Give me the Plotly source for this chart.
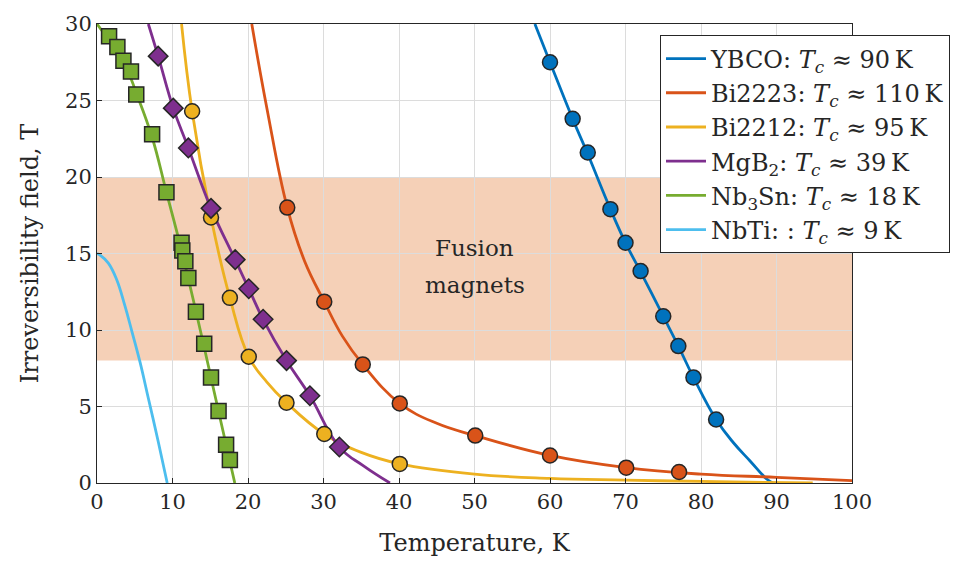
import plotly.graph_objects as go

# ---------------- data ----------------
# Measured points (markers)
ybco_T = [60.0, 63.0, 65.0, 68.0, 70.0, 72.0, 75.0, 77.0, 79.0, 82.0]
ybco_B = [27.5, 23.8, 21.6, 17.9, 15.7, 13.85, 10.9, 8.95, 6.9, 4.15]

bi2223_T = [25.2, 30.1, 35.2, 40.1, 50.1, 60.0, 70.1, 77.1]
bi2223_B = [18.0, 11.85, 7.75, 5.2, 3.1, 1.8, 1.0, 0.72]

bi2212_T = [12.6, 15.1, 17.6, 20.1, 25.1, 30.1, 40.1]
bi2212_B = [24.3, 17.35, 12.1, 8.25, 5.25, 3.2, 1.25]

mgb2_T = [8.1, 10.1, 12.1, 15.1, 18.3, 20.1, 22.0, 25.1, 28.2, 32.1]
mgb2_B = [27.9, 24.5, 21.9, 17.95, 14.6, 12.7, 10.7, 8.0, 5.7, 2.35]

nb3sn_T = [1.6, 2.7, 3.5, 4.5, 5.2, 7.3, 9.2, 11.2, 11.3, 11.7, 12.1, 13.1,
           14.2, 15.1, 16.1, 17.1, 17.6]
nb3sn_B = [29.2, 28.5, 27.6, 26.9, 25.4, 22.8, 19.0, 15.7, 15.2, 14.5, 13.4,
           11.2, 9.1, 6.9, 4.7, 2.5, 1.5]

# Fitted curves (lines)
ybco_line_T = [58.0, 60.0, 63.0, 65.0, 68.0, 70.0, 72.0, 75.0, 77.0, 79.0, 82.0, 84.3, 86.5, 88.7, 89.5]
ybco_line_B = [30.0, 27.5, 23.8, 21.5, 17.9, 15.7, 13.8, 10.9, 8.95, 6.9, 4.15, 2.63, 1.44, 0.26, 0.0]

bi2223_line_T = [20.5, 22.5, 25.2, 27.5, 30.1, 32.5, 35.2, 40.1, 45.0, 50.1, 60.0, 70.1, 80.0, 90.0, 100.0]
bi2223_line_B = [30.0, 24.5, 18.0, 14.5, 11.85, 9.6, 7.75, 5.2, 3.9, 3.1, 1.8, 1.0, 0.58, 0.37, 0.15]

bi2212_line_T = [11.2, 12.6, 15.1, 17.6, 20.1, 22.5, 25.1, 30.1, 35.0, 40.1, 50.0, 60.0, 70.0, 80.0, 94.8]
bi2212_line_B = [30.0, 24.3, 17.35, 12.1, 8.25, 6.6, 5.25, 3.2, 2.0, 1.25, 0.58, 0.3, 0.19, 0.1, 0.0]

mgb2_line_T = [6.8, 8.1, 10.1, 12.1, 15.1, 18.3, 20.1, 22.0, 25.1, 28.2, 32.1, 35.3, 38.8]
mgb2_line_B = [30.0, 27.9, 24.5, 21.9, 17.95, 14.6, 12.7, 10.7, 8.0, 5.7, 2.35, 1.12, 0.0]

nb3sn_line_T = [0.0, 2.0, 4.0, 5.2, 7.3, 9.2, 11.0, 12.5, 14.0, 15.5, 17.1, 18.25]
nb3sn_line_B = [30.0, 28.6, 27.0, 25.5, 22.6, 19.0, 15.6, 12.5, 9.3, 6.0, 2.5, 0.0]

nbti_line_T = [0.0, 0.4, 1.5, 2.6, 3.7, 4.6, 5.7, 6.8, 8.1, 9.3]
nbti_line_B = [15.0, 14.9, 14.37, 13.3, 11.57, 9.95, 7.9, 5.54, 2.73, 0.0]

fusion_band = [8, 20]

TS = "\u2009"  # thin space before unit
names = [
    f"YBCO: <i>T</i><sub><i>c</i></sub> ≈ 90{TS}K",
    f"Bi2223: <i>T</i><sub><i>c</i></sub> ≈ 110{TS}K",
    f"Bi2212: <i>T</i><sub><i>c</i></sub> ≈ 95{TS}K",
    f"MgB<sub>2</sub>: <i>T</i><sub><i>c</i></sub> ≈ 39{TS}K",
    f"Nb<sub>3</sub>Sn: <i>T</i><sub><i>c</i></sub> ≈ 18{TS}K",
    f"NbTi: : <i>T</i><sub><i>c</i></sub> ≈ 9{TS}K",
]
colors = ["#0072BD", "#D95319", "#EDB120", "#7E2F8E", "#77AC30", "#4DBEEE"]

FONT = "DejaVu Serif"
DARK = "#262626"

fig = go.Figure()

lines = [
    (ybco_line_T, ybco_line_B),
    (bi2223_line_T, bi2223_line_B),
    (bi2212_line_T, bi2212_line_B),
    (mgb2_line_T, mgb2_line_B),
    (nb3sn_line_T, nb3sn_line_B),
    (nbti_line_T, nbti_line_B),
]
for (t, b), name, c in zip(lines, names, colors):
    fig.add_trace(go.Scatter(
        x=t, y=b, mode="lines", name=name,
        line=dict(color=c, width=2.8, shape="spline", smoothing=1.2),
    ))

markers = [
    (ybco_T, ybco_B, colors[0], "circle", 15),
    (bi2223_T, bi2223_B, colors[1], "circle", 15),
    (bi2212_T, bi2212_B, colors[2], "circle", 15),
    (mgb2_T, mgb2_B, colors[3], "diamond", 15),
    (nb3sn_T, nb3sn_B, colors[4], "square", 15),
]
for t, b, c, sym, sz in markers:
    fig.add_trace(go.Scatter(
        x=t, y=b, mode="markers", showlegend=False, hoverinfo="skip",
        marker=dict(color=c, symbol=sym, size=sz, line=dict(color=DARK, width=1.5)),
    ))

fig.add_shape(type="rect", xref="x", yref="y", x0=0, x1=100,
              y0=fusion_band[0], y1=fusion_band[1],
              fillcolor="#f5d0b7", line=dict(width=0), layer="below")

fig.add_annotation(x=50, y=15.35, xref="x", yref="y", text="Fusion",
                   showarrow=False, font=dict(family=FONT, size=23, color=DARK))
fig.add_annotation(x=50, y=12.95, xref="x", yref="y", text="magnets",
                   showarrow=False, font=dict(family=FONT, size=23, color=DARK))

axis_common = dict(
    showgrid=True, gridcolor="#dcdcdc", gridwidth=1,
    showline=True, linecolor=DARK, linewidth=1, mirror=True,
    ticks="inside", ticklen=5, tickcolor=DARK,
    tickfont=dict(family=FONT, size=21, color=DARK),
    zeroline=False,
)

fig.update_layout(
    width=963, height=563,
    margin=dict(l=97, r=111, t=20, b=79),
    paper_bgcolor="white", plot_bgcolor="white",
    font=dict(family=FONT, color=DARK),
    xaxis=dict(range=[0, 100], dtick=10,
               title=dict(text="Temperature, K", font=dict(family=FONT, size=24, color=DARK), standoff=20),
               **axis_common),
    yaxis=dict(range=[0, 30], dtick=5,
               title=dict(text="Irreversibility field, T", font=dict(family=FONT, size=24, color=DARK), standoff=19),
               **axis_common),
    legend=dict(x=0.7457, y=0.975, xanchor="left", yanchor="top",
                bgcolor="white", bordercolor=DARK, borderwidth=1,
                font=dict(family=FONT, size=24, color=DARK),
                itemwidth=40, tracegroupgap=0),
    showlegend=True,
)

fig.write_html("out.html")
